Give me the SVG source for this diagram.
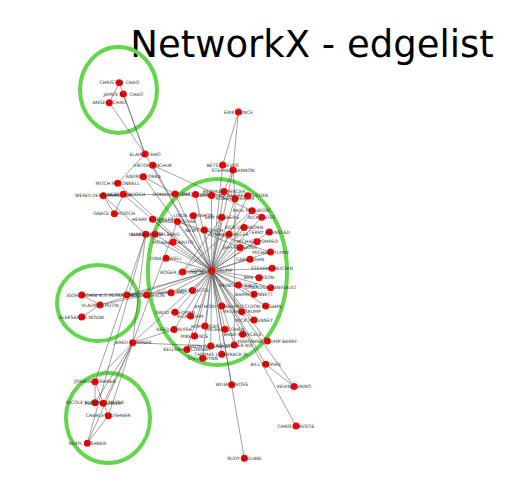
<svg xmlns="http://www.w3.org/2000/svg" width="520" height="483" viewBox="0 0 520 483">
<style>
.bg{fill:#ffffff}
.title{font-family:"DejaVu Sans",sans-serif;font-size:37px;fill:#000;text-anchor:middle}
.grp{fill:none;stroke:#62d64c;stroke-width:4}
.e{stroke:#555;stroke-width:0.55;fill:none}
.n use{fill:#ff0000}
.n text{font-family:"DejaVu Sans",sans-serif;font-size:4.6px;fill:#333;text-anchor:middle;dominant-baseline:central}
</style>
<defs>
<circle id="dot" r="3.5" fill="#ff0000"/>
</defs>
<rect class="bg" x="0" y="0" width="520" height="483"/>
<text class="title" x="312" y="57">NetworkX - edgelist</text>
<g id="groups">
<ellipse class="grp" cx="118.5" cy="90" rx="38.5" ry="43"/>
<ellipse class="grp" cx="98" cy="303" rx="41" ry="38"/>
<ellipse class="grp" cx="108" cy="418" rx="42" ry="45"/>
<ellipse class="grp" cx="217.5" cy="272" rx="69.5" ry="93"/>
</g>
<g id="connectors">
<line class="e" x1="119.3" y1="82.7" x2="145" y2="154"/>
<line class="e" x1="123.3" y1="94" x2="145" y2="154"/>
<line class="e" x1="109.3" y1="102.7" x2="145" y2="154"/>
<line class="e" x1="119.3" y1="82.7" x2="109.3" y2="102.7"/>
<line class="e" x1="145" y1="154" x2="117.7" y2="183.3"/>
<line class="e" x1="145" y1="154" x2="211.7" y2="270.7"/>
<line class="e" x1="152.7" y1="165.3" x2="211.7" y2="270.7"/>
<line class="e" x1="152.7" y1="165.3" x2="252" y2="210.7"/>
<line class="e" x1="143.3" y1="176.7" x2="211.7" y2="270.7"/>
<line class="e" x1="143.3" y1="176.7" x2="175" y2="194"/>
<line class="e" x1="117.7" y1="183.3" x2="211.7" y2="270.7"/>
<line class="e" x1="238.4" y1="112" x2="222.7" y2="165"/>
<line class="e" x1="238.4" y1="112" x2="233" y2="170"/>
<line class="e" x1="222.7" y1="165" x2="211.7" y2="270.7"/>
<line class="e" x1="233" y1="170" x2="211.7" y2="270.7"/>
<line class="e" x1="233" y1="170" x2="224" y2="191.5"/>
<line class="e" x1="233" y1="170" x2="235" y2="198.7"/>
<line class="e" x1="224" y1="191.5" x2="235" y2="198.7"/>
<line class="e" x1="103.3" y1="195.7" x2="123.3" y2="194.3"/>
<line class="e" x1="103.3" y1="195.7" x2="114.3" y2="213.7"/>
<line class="e" x1="123.3" y1="194.3" x2="114.3" y2="213.7"/>
<line class="e" x1="103.3" y1="195.7" x2="145.7" y2="234.3"/>
<line class="e" x1="123.3" y1="194.3" x2="211.7" y2="270.7"/>
<line class="e" x1="103.3" y1="195.7" x2="175" y2="194"/>
<line class="e" x1="152.7" y1="219.3" x2="211.7" y2="270.7"/>
<line class="e" x1="175" y1="194" x2="211.7" y2="270.7"/>
<line class="e" x1="195.5" y1="194.5" x2="211.7" y2="270.7"/>
<line class="e" x1="211.5" y1="195.5" x2="211.7" y2="270.7"/>
<line class="e" x1="224" y1="191.5" x2="211.7" y2="270.7"/>
<line class="e" x1="235" y1="198.7" x2="211.7" y2="270.7"/>
<line class="e" x1="247.8" y1="195.7" x2="211.7" y2="270.7"/>
<line class="e" x1="252" y1="210.7" x2="211.7" y2="270.7"/>
<line class="e" x1="252" y1="210.7" x2="261.7" y2="217.3"/>
<line class="e" x1="252" y1="210.7" x2="182.5" y2="272"/>
<line class="e" x1="261.7" y1="217.3" x2="211.7" y2="270.7"/>
<line class="e" x1="177.3" y1="221.5" x2="211.7" y2="270.7"/>
<line class="e" x1="177.3" y1="221.5" x2="240" y2="247.5"/>
<line class="e" x1="177.3" y1="221.5" x2="270.5" y2="252"/>
<line class="e" x1="193.3" y1="215.8" x2="211.7" y2="270.7"/>
<line class="e" x1="221.7" y1="217.3" x2="211.7" y2="270.7"/>
<line class="e" x1="221.7" y1="217.3" x2="182.5" y2="272"/>
<line class="e" x1="204.3" y1="230" x2="211.7" y2="270.7"/>
<line class="e" x1="229" y1="234.3" x2="211.7" y2="270.7"/>
<line class="e" x1="244" y1="227.5" x2="211.7" y2="270.7"/>
<line class="e" x1="269.3" y1="232" x2="211.7" y2="270.7"/>
<line class="e" x1="257" y1="241.7" x2="211.7" y2="270.7"/>
<line class="e" x1="240" y1="247.5" x2="211.7" y2="270.7"/>
<line class="e" x1="145.7" y1="234.3" x2="211.7" y2="270.7"/>
<line class="e" x1="155" y1="234.3" x2="211.7" y2="270.7"/>
<line class="e" x1="173" y1="242.3" x2="211.7" y2="270.7"/>
<line class="e" x1="250" y1="259.2" x2="211.7" y2="270.7"/>
<line class="e" x1="270.5" y1="252" x2="211.7" y2="270.7"/>
<line class="e" x1="166" y1="258.3" x2="211.7" y2="270.7"/>
<line class="e" x1="182.5" y1="272" x2="211.7" y2="270.7"/>
<line class="e" x1="272" y1="268.3" x2="211.7" y2="270.7"/>
<line class="e" x1="259" y1="277.8" x2="211.7" y2="270.7"/>
<line class="e" x1="238.3" y1="285" x2="211.7" y2="270.7"/>
<line class="e" x1="270.7" y1="287.7" x2="211.7" y2="270.7"/>
<line class="e" x1="254" y1="294.3" x2="211.7" y2="270.7"/>
<line class="e" x1="81.7" y1="295" x2="146.7" y2="295"/>
<line class="e" x1="81.7" y1="295" x2="100" y2="305"/>
<line class="e" x1="100" y1="305" x2="146.7" y2="295"/>
<line class="e" x1="100" y1="305" x2="81.7" y2="317"/>
<line class="e" x1="146.7" y1="295" x2="211.7" y2="270.7"/>
<line class="e" x1="100" y1="305" x2="211.7" y2="270.7"/>
<line class="e" x1="81.7" y1="295" x2="171" y2="292.7"/>
<line class="e" x1="126.7" y1="295" x2="211.7" y2="270.7"/>
<line class="e" x1="171" y1="292.7" x2="211.7" y2="270.7"/>
<line class="e" x1="192.5" y1="290.5" x2="211.7" y2="270.7"/>
<line class="e" x1="175" y1="312.3" x2="211.7" y2="270.7"/>
<line class="e" x1="190.5" y1="316" x2="211.7" y2="270.7"/>
<line class="e" x1="221.7" y1="306" x2="211.7" y2="270.7"/>
<line class="e" x1="241.7" y1="311.7" x2="211.7" y2="270.7"/>
<line class="e" x1="265.7" y1="306" x2="211.7" y2="270.7"/>
<line class="e" x1="254" y1="320" x2="211.7" y2="270.7"/>
<line class="e" x1="174" y1="329.5" x2="211.7" y2="270.7"/>
<line class="e" x1="205" y1="326" x2="211.7" y2="270.7"/>
<line class="e" x1="225" y1="329.3" x2="211.7" y2="270.7"/>
<line class="e" x1="194.5" y1="336" x2="211.7" y2="270.7"/>
<line class="e" x1="242.7" y1="334.3" x2="211.7" y2="270.7"/>
<line class="e" x1="267.3" y1="341" x2="211.7" y2="270.7"/>
<line class="e" x1="132.7" y1="342.7" x2="211.7" y2="270.7"/>
<line class="e" x1="187" y1="349.5" x2="211.7" y2="270.7"/>
<line class="e" x1="210.7" y1="346" x2="211.7" y2="270.7"/>
<line class="e" x1="234.3" y1="345" x2="211.7" y2="270.7"/>
<line class="e" x1="234.3" y1="345" x2="235" y2="198.7"/>
<line class="e" x1="221.7" y1="354.3" x2="211.7" y2="270.7"/>
<line class="e" x1="202.7" y1="358.3" x2="211.7" y2="270.7"/>
<line class="e" x1="265.7" y1="364.3" x2="211.7" y2="270.7"/>
<line class="e" x1="231.7" y1="384.7" x2="211.7" y2="270.7"/>
<line class="e" x1="244.3" y1="458.3" x2="211.7" y2="270.7"/>
<line class="e" x1="294" y1="386.5" x2="211.7" y2="270.7"/>
<line class="e" x1="294" y1="386.5" x2="265.7" y2="364.3"/>
<line class="e" x1="296" y1="426" x2="211.7" y2="270.7"/>
<line class="e" x1="132.7" y1="342.7" x2="145.7" y2="234.3"/>
<line class="e" x1="132.7" y1="342.7" x2="177.3" y2="221.5"/>
<line class="e" x1="132.7" y1="342.7" x2="174" y2="329.5"/>
<line class="e" x1="132.7" y1="342.7" x2="210.7" y2="346"/>
<line class="e" x1="132.7" y1="342.7" x2="95" y2="381.7"/>
<line class="e" x1="132.7" y1="342.7" x2="95" y2="402.7"/>
<line class="e" x1="132.7" y1="342.7" x2="103.3" y2="403.3"/>
<line class="e" x1="132.7" y1="342.7" x2="108.3" y2="415.7"/>
<line class="e" x1="132.7" y1="342.7" x2="87.3" y2="443.3"/>
<line class="e" x1="108.3" y1="415.7" x2="87.3" y2="443.3"/>
<line class="e" x1="108.3" y1="415.7" x2="95" y2="381.7"/>
<line class="e" x1="95" y1="381.7" x2="95" y2="402.7"/>
<line class="e" x1="87.3" y1="443.3" x2="145.7" y2="234.3"/>
<line class="e" x1="95" y1="381.7" x2="145.7" y2="234.3"/>
</g>
<g id="nodes">
<g class="n" id="christine-chao"><use href="#dot" x="119.3" y="82.7"/><text x="119.3" y="82.7">CHRISTINE CHAO</text></g>
<g class="n" id="james-chao"><use href="#dot" x="123.3" y="94"/><text x="123.3" y="94">JAMES S.C. CHAO</text></g>
<g class="n" id="angela-chao"><use href="#dot" x="109.3" y="102.7"/><text x="109.3" y="102.7">ANGELA CHAO</text></g>
<g class="n" id="erik-prince"><use href="#dot" x="238.4" y="112"/><text x="238.4" y="112">ERIK PRINCE</text></g>
<g class="n" id="elaine-chao"><use href="#dot" x="145" y="154"/><text x="145" y="154">ELAINE CHAO</text></g>
<g class="n" id="viktor-pinchuk"><use href="#dot" x="152.7" y="165.3"/><text x="152.7" y="165.3">VIKTOR PINCHUK</text></g>
<g class="n" id="betsy-devos"><use href="#dot" x="222.7" y="165"/><text x="222.7" y="165">BETSY DEVOS</text></g>
<g class="n" id="stephen-bannon"><use href="#dot" x="233" y="170"/><text x="233" y="170">STEPHEN BANNON</text></g>
<g class="n" id="andrew-orka"><use href="#dot" x="143.3" y="176.7"/><text x="143.3" y="176.7">ANDREW ORKA</text></g>
<g class="n" id="mitch-mcconnell"><use href="#dot" x="117.7" y="183.3"/><text x="117.7" y="183.3">MITCH McCONNELL</text></g>
<g class="n" id="wendi-deng-murdoch"><use href="#dot" x="103.3" y="195.7"/><text x="103.3" y="195.7">WENDI DENG MURDOCH</text></g>
<g class="n" id="rupert-murdoch"><use href="#dot" x="123.3" y="194.3"/><text x="123.3" y="194.3">RUPERT MURDOCH</text></g>
<g class="n" id="grace-murdoch"><use href="#dot" x="114.3" y="213.7"/><text x="114.3" y="213.7">GRACE MURDOCH</text></g>
<g class="n" id="donald-trump-jr"><use href="#dot" x="175" y="194"/><text x="175" y="194">DONALD TRUMP JR.</text></g>
<g class="n" id="eric-trump"><use href="#dot" x="195.5" y="194.5"/><text x="195.5" y="194.5">ERIC TRUMP</text></g>
<g class="n" id="lara-trump"><use href="#dot" x="211.5" y="195.5"/><text x="211.5" y="195.5">LARA TRUMP</text></g>
<g class="n" id="rebekah-mercer"><use href="#dot" x="224" y="191.5"/><text x="224" y="191.5">REBEKAH MERCER</text></g>
<g class="n" id="robert-mercer"><use href="#dot" x="235" y="198.7"/><text x="235" y="198.7">ROBERT MERCER</text></g>
<g class="n" id="andrew-puzder"><use href="#dot" x="247.8" y="195.7"/><text x="247.8" y="195.7">ANDREW PUZDER</text></g>
<g class="n" id="paul-manafort"><use href="#dot" x="252" y="210.7"/><text x="252" y="210.7">PAUL MANAFORT</text></g>
<g class="n" id="rick-gates"><use href="#dot" x="261.7" y="217.3"/><text x="261.7" y="217.3">RICK GATES</text></g>
<g class="n" id="henry-kissinger"><use href="#dot" x="152.7" y="219.3"/><text x="152.7" y="219.3">HENRY KISSINGER</text></g>
<g class="n" id="sergey-kislyak"><use href="#dot" x="177.3" y="221.5"/><text x="177.3" y="221.5">SERGEY KISLYAK</text></g>
<g class="n" id="linda-mcmahon"><use href="#dot" x="193.3" y="215.8"/><text x="193.3" y="215.8">LINDA McMAHON</text></g>
<g class="n" id="sam-nunberg"><use href="#dot" x="221.7" y="217.3"/><text x="221.7" y="217.3">SAM NUNBERG</text></g>
<g class="n" id="newt-gingrich"><use href="#dot" x="204.3" y="230"/><text x="204.3" y="230">NEWT GINGRICH</text></g>
<g class="n" id="stephen-miller"><use href="#dot" x="229" y="234.3"/><text x="229" y="234.3">STEPHEN MILLER</text></g>
<g class="n" id="rick-dearborn"><use href="#dot" x="244" y="227.5"/><text x="244" y="227.5">RICK DEARBORN</text></g>
<g class="n" id="terry-branstad"><use href="#dot" x="269.3" y="232"/><text x="269.3" y="232">TERRY BRANSTAD</text></g>
<g class="n" id="michael-pompeo"><use href="#dot" x="257" y="241.7"/><text x="257" y="241.7">MICHAEL POMPEO</text></g>
<g class="n" id="jeff-sessions"><use href="#dot" x="240" y="247.5"/><text x="240" y="247.5">JEFF SESSIONS</text></g>
<g class="n" id="ivanka-trump"><use href="#dot" x="145.7" y="234.3"/><text x="145.7" y="234.3">IVANKA TRUMP</text></g>
<g class="n" id="allen-weisselberg"><use href="#dot" x="155" y="234.3"/><text x="155" y="234.3">ALLEN WEISSELBERG</text></g>
<g class="n" id="michael-caputo"><use href="#dot" x="173" y="242.3"/><text x="173" y="242.3">MICHAEL CAPUTO</text></g>
<g class="n" id="carl-icahn"><use href="#dot" x="250" y="259.2"/><text x="250" y="259.2">CARL ICAHN</text></g>
<g class="n" id="michael-flynn"><use href="#dot" x="270.5" y="252"/><text x="270.5" y="252">MICHAEL FLYNN</text></g>
<g class="n" id="dina-powell"><use href="#dot" x="166" y="258.3"/><text x="166" y="258.3">DINA POWELL</text></g>
<g class="n" id="roger-stone"><use href="#dot" x="182.5" y="272"/><text x="182.5" y="272">ROGER J. STONE JR.</text></g>
<g class="n" id="steven-mnuchin"><use href="#dot" x="272" y="268.3"/><text x="272" y="268.3">STEVEN MNUCHIN</text></g>
<g class="n" id="ben-carson"><use href="#dot" x="259" y="277.8"/><text x="259" y="277.8">BEN CARSON</text></g>
<g class="n" id="reince-priebus"><use href="#dot" x="238.3" y="285"/><text x="238.3" y="285">REINCE PRIEBUS</text></g>
<g class="n" id="omarosa-manigault"><use href="#dot" x="270.7" y="287.7"/><text x="270.7" y="287.7">OMAROSA MANIGAULT</text></g>
<g class="n" id="barry-bennett"><use href="#dot" x="254" y="294.3"/><text x="254" y="294.3">BARRY BENNETT</text></g>
<g class="n" id="igor-sechin"><use href="#dot" x="81.7" y="295"/><text x="81.7" y="295">IGOR SECHIN</text></g>
<g class="n" id="kt-mcfarland"><use href="#dot" x="126.7" y="295"/><text x="118" y="295">K.T. McFARLAND</text></g>
<g class="n" id="rex-tillerson"><use href="#dot" x="146.7" y="295"/><text x="146.7" y="295">REX TILLERSON</text></g>
<g class="n" id="gary-cohn"><use href="#dot" x="171" y="292.7"/><text x="171" y="292.7">GARY COHN</text></g>
<g class="n" id="james-mattis"><use href="#dot" x="192.5" y="290.5"/><text x="192.5" y="290.5">JAMES MATTIS</text></g>
<g class="n" id="vladimir-putin"><use href="#dot" x="100" y="305"/><text x="100" y="305">VLADIMIR PUTIN</text></g>
<g class="n" id="aleksandr-novak"><use href="#dot" x="81.7" y="317"/><text x="81.7" y="317">ALEKSANDR NOVAK</text></g>
<g class="n" id="david-friedman"><use href="#dot" x="175" y="312.3"/><text x="175" y="312.3">DAVID FRIEDMAN</text></g>
<g class="n" id="rick-perry"><use href="#dot" x="190.5" y="316"/><text x="190.5" y="316">RICK PERRY</text></g>
<g class="n" id="anthony-scaramucci"><use href="#dot" x="221.7" y="306"/><text x="221.7" y="306">ANTHONY SCARAMUCCI</text></g>
<g class="n" id="melania-trump"><use href="#dot" x="241.7" y="311.7"/><text x="241.7" y="311.7">MELANIA TRUMP</text></g>
<g class="n" id="don-mcgahn"><use href="#dot" x="265.7" y="306"/><text x="265.7" y="306">DON McGAHN</text></g>
<g class="n" id="mick-mulvaney"><use href="#dot" x="254" y="320"/><text x="254" y="320">MICK MULVANEY</text></g>
<g class="n" id="reed-cordish"><use href="#dot" x="174" y="329.5"/><text x="174" y="329.5">REED CORDISH</text></g>
<g class="n" id="hope-hicks"><use href="#dot" x="205" y="326"/><text x="205" y="326">HOPE HICKS</text></g>
<g class="n" id="michael-cohen"><use href="#dot" x="225" y="329.3"/><text x="225" y="329.3">MICHAEL COHEN</text></g>
<g class="n" id="mike-pence"><use href="#dot" x="194.5" y="336"/><text x="194.5" y="336">MIKE PENCE</text></g>
<g class="n" id="brad-parscale"><use href="#dot" x="242.7" y="334.3"/><text x="242.7" y="334.3">BRAD PARSCALE</text></g>
<g class="n" id="maryanne-trump-barry"><use href="#dot" x="267.3" y="341"/><text x="267.3" y="341">MARYANNE TRUMP BARRY</text></g>
<g class="n" id="jared-kushner"><use href="#dot" x="132.7" y="342.7"/><text x="132.7" y="342.7">JARED KUSHNER</text></g>
<g class="n" id="kellyanne-conway"><use href="#dot" x="187" y="349.5"/><text x="187" y="349.5">KELLYANNE CONWAY</text></g>
<g class="n" id="jason-greenblatt"><use href="#dot" x="210.7" y="346"/><text x="210.7" y="346">JASON GREENBLATT</text></g>
<g class="n" id="alexander-nix"><use href="#dot" x="234.3" y="345"/><text x="234.3" y="345">ALEXANDER NIX</text></g>
<g class="n" id="thomas-barrack"><use href="#dot" x="221.7" y="354.3"/><text x="221.7" y="354.3">THOMAS J. BARRACK JR.</text></g>
<g class="n" id="steve-wynn"><use href="#dot" x="202.7" y="358.3"/><text x="202.7" y="358.3">STEVE WYNN</text></g>
<g class="n" id="bill-stepien"><use href="#dot" x="265.7" y="364.3"/><text x="265.7" y="364.3">BILL STEPIEN</text></g>
<g class="n" id="joshua-kushner"><use href="#dot" x="95" y="381.7"/><text x="95" y="381.7">JOSHUA KUSHNER</text></g>
<g class="n" id="nicole-kushner-meyer"><use href="#dot" x="95" y="402.7"/><text x="95" y="402.7">NICOLE KUSHNER MEYER</text></g>
<g class="n" id="marc-kushner"><use href="#dot" x="103.3" y="403.3"/><text x="103.3" y="403.3">MARC KUSHNER</text></g>
<g class="n" id="charles-kushner"><use href="#dot" x="108.3" y="415.7"/><text x="108.3" y="415.7">CHARLES KUSHNER</text></g>
<g class="n" id="seryl-kushner"><use href="#dot" x="87.3" y="443.3"/><text x="87.3" y="443.3">SERYL KUSHNER</text></g>
<g class="n" id="wilbur-ross"><use href="#dot" x="231.7" y="384.7"/><text x="231.7" y="384.7">WILBUR ROSS</text></g>
<g class="n" id="kevin-marino"><use href="#dot" x="294" y="386.5"/><text x="294" y="386.5">KEVIN MARINO</text></g>
<g class="n" id="chris-christie"><use href="#dot" x="296" y="426"/><text x="296" y="426">CHRIS CHRISTIE</text></g>
<g class="n" id="rudy-giuliani"><use href="#dot" x="244.3" y="458.3"/><text x="244.3" y="458.3">RUDY GIULIANI</text></g>
<g class="n" id="donald-j-trump"><use href="#dot" x="211.7" y="270.7"/><text x="211.7" y="270.7">DONALD J. TRUMP</text></g>
</g>
</svg>
